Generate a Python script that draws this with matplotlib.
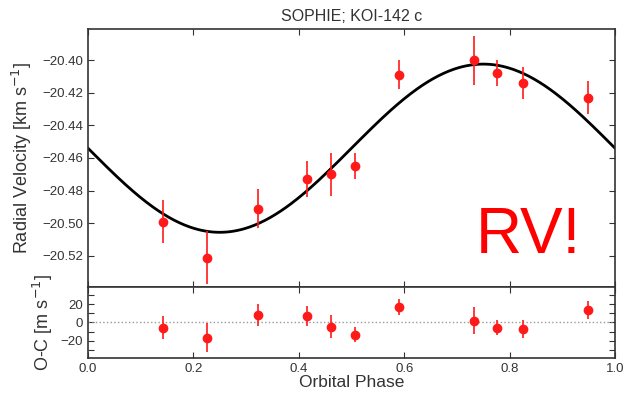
import numpy as np
import matplotlib
matplotlib.use("Agg")
import matplotlib.pyplot as plt
from matplotlib.ticker import MultipleLocator, FuncFormatter

plt.rcParams['font.family'] = ['Liberation Sans', 'DejaVu Sans']

# SOPHIE RV data, KOI-142 c
phase = [0.142, 0.226, 0.323, 0.415, 0.462, 0.507, 0.591, 0.733, 0.777, 0.825, 0.948]
rv = [-20.499, -20.521, -20.491, -20.473, -20.470, -20.465, -20.409, -20.400, -20.408, -20.414, -20.423]
rv_err = [0.013, 0.016, 0.012, 0.011, 0.013, 0.008, 0.009, 0.015, 0.008, 0.010, 0.010]
resid = [-5.5, -16.7, 8.7, 7.0, -4.4, -13.4, 16.8, 1.9, -5.5, -6.9, 13.9]  # m/s

# circular orbit model parameters (km/s)
gamma = -20.454
K = 0.0515

ink = '#333333'
red = '#ff1a1a'

fig = plt.figure(figsize=(6.24, 3.95), dpi=100)
ax = fig.add_axes([0.141, 0.2734, 0.8446, 0.6532])
axr = fig.add_axes([0.141, 0.0937, 0.8446, 0.1797], sharex=ax)

ph = np.linspace(0, 1, 400)
ax.plot(ph, gamma - K * np.sin(2 * np.pi * ph), color='black', lw=2)
ax.errorbar(phase, rv, yerr=rv_err, fmt='o', color=red, ecolor=red,
            ms=6, elinewidth=1.2, capsize=0, zorder=3)
ax.text(0.736, -20.518, 'RV!', color='red', fontsize=46, ha='left', va='baseline')
ax.set_title('SOPHIE; KOI-142 c', fontsize=11.5, color=ink, pad=6)
ax.set_ylabel('Radial Velocity [km s$^{-1}$]', fontsize=13, color=ink, labelpad=6)
ax.set_ylim(-20.539, -20.381)
ax.yaxis.set_major_locator(MultipleLocator(0.02))
ax.yaxis.set_major_formatter(FuncFormatter(lambda v, p: f'{v:.2f}'.replace('-', '\u2212')))

axr.axhline(0, color='#999999', ls=':', lw=1)
axr.errorbar(phase, resid, yerr=np.array(rv_err) * 1000, fmt='o', color=red, ecolor=red,
             ms=6, elinewidth=1.2, capsize=0, zorder=3)
axr.set_ylim(-39, 39)
axr.set_xlim(0, 1)
axr.yaxis.set_major_locator(MultipleLocator(20))
axr.yaxis.set_minor_locator(MultipleLocator(10))
axr.xaxis.set_major_locator(MultipleLocator(0.2))
axr.set_ylabel('O-C [m s$^{-1}$]', fontsize=13, color=ink, labelpad=4)
axr.set_xlabel('Orbital Phase', fontsize=12.5, color=ink, labelpad=0)

for a in (ax, axr):
    a.tick_params(which='both', direction='in', top=True, right=True,
                  labelsize=9.5, colors=ink, length=4, width=0.8)
    for s in a.spines.values():
        s.set_color(ink)
        s.set_linewidth(1.2)
plt.setp(ax.get_xticklabels(), visible=False)

fig.savefig('out.png', dpi=100)
